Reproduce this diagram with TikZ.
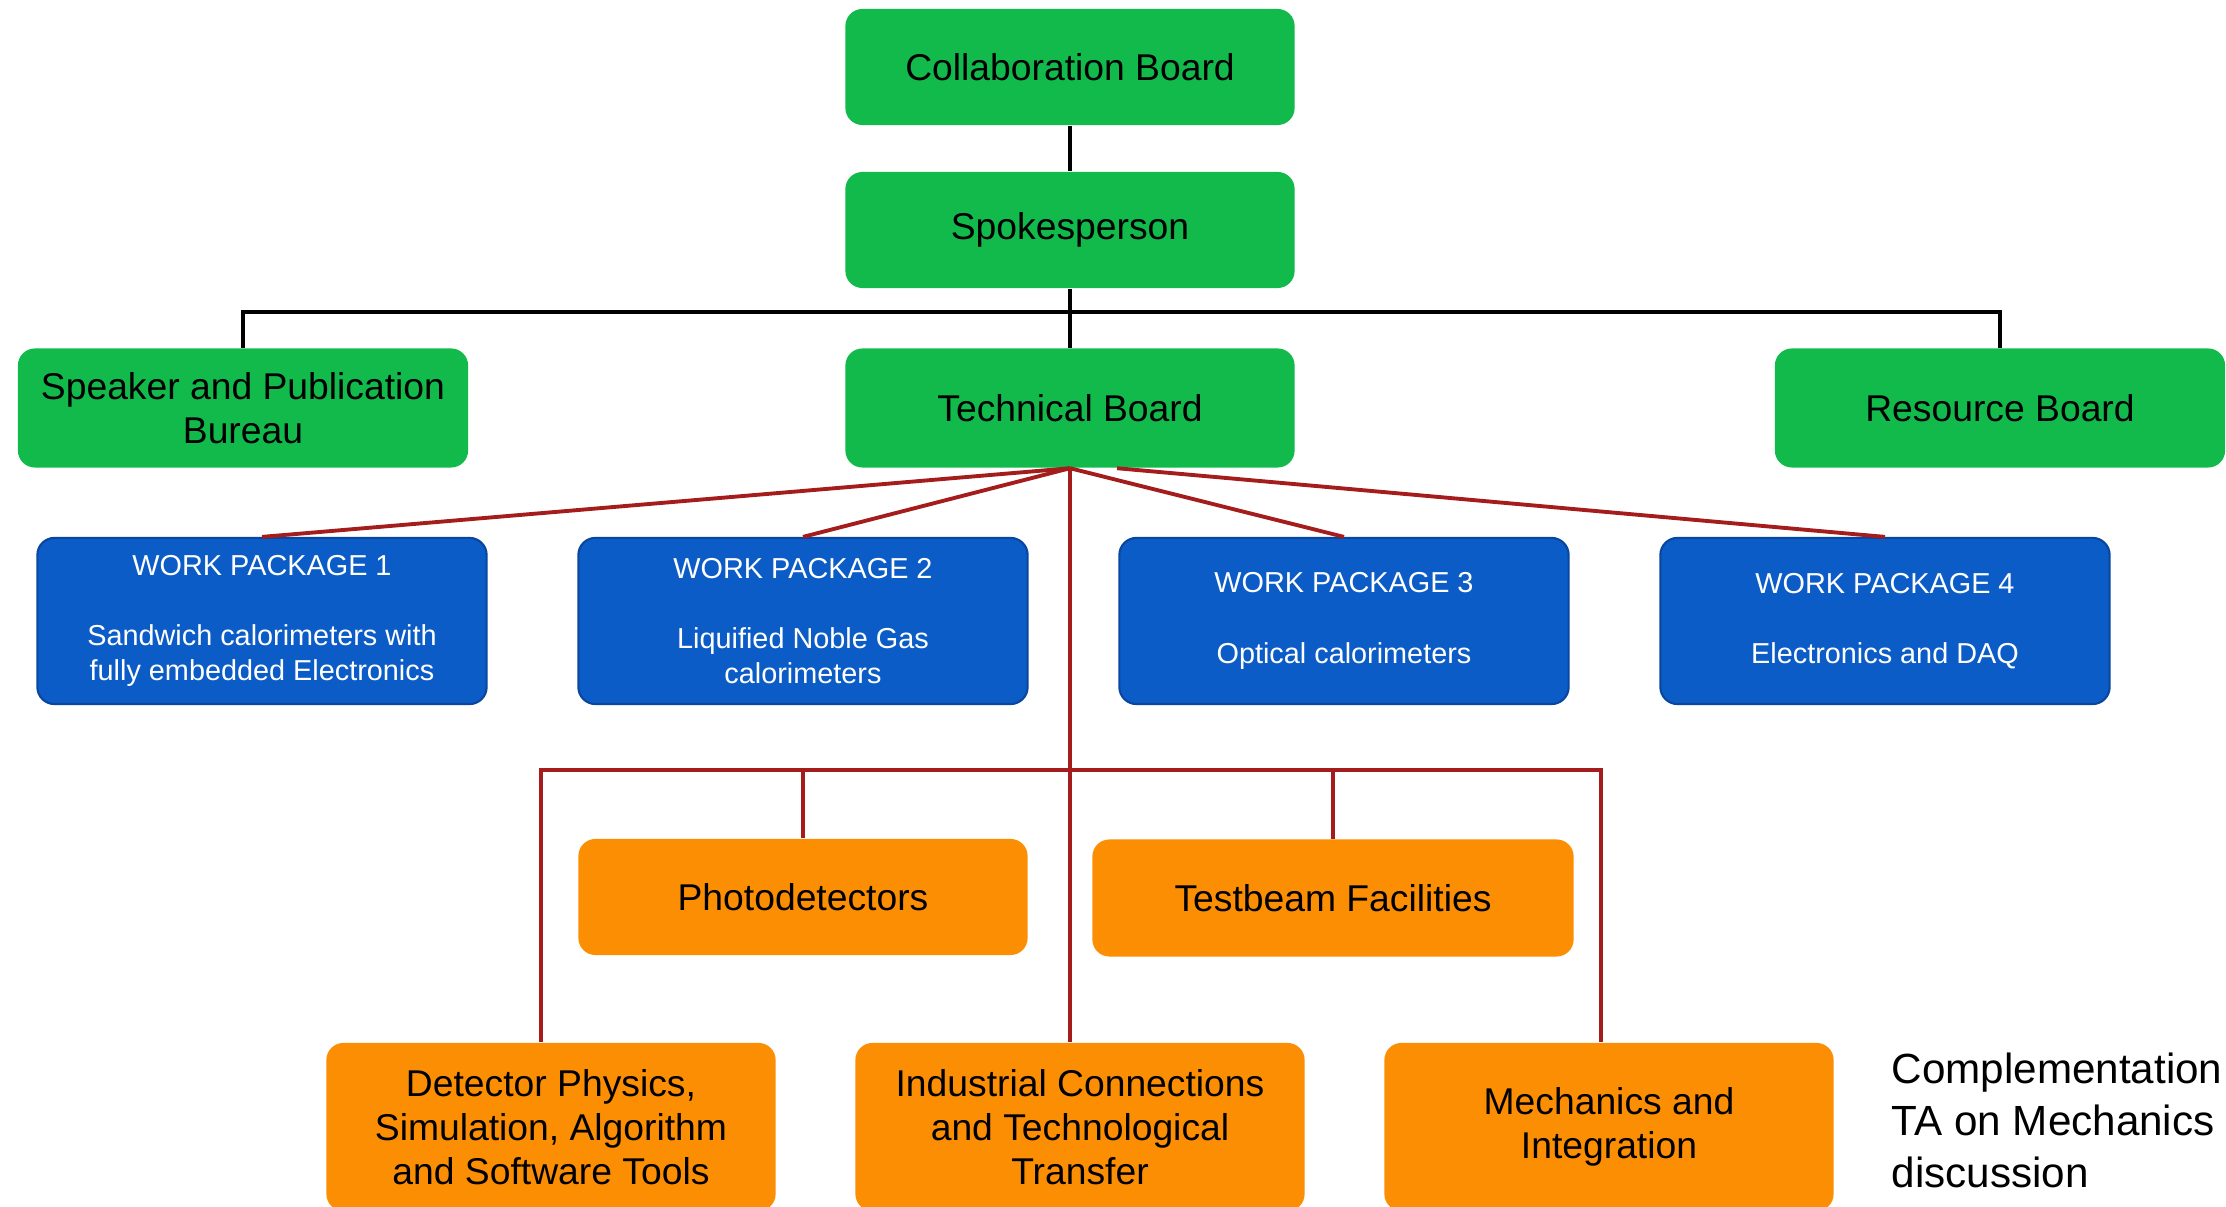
\documentclass[tikz,border=0pt]{standalone}
\usepackage{fontspec}
\setmainfont{Liberation Sans}
\definecolor{boardgreen}{RGB}{18,186,76}
\definecolor{wpblue}{RGB}{12,92,200}
\definecolor{wpblueedge}{RGB}{8,70,160}
\definecolor{taorange}{RGB}{252,142,4}
\definecolor{linkred}{RGB}{165,28,28}
\begin{document}
\begin{tikzpicture}[x=0.01cm,y=-0.01cm,
  box/.style={rounded corners=0.17cm, minimum width=4.49cm, minimum height=1.16cm,
    align=center, inner sep=0pt, font=\fontsize{10.6}{12.5}\selectfont},
  greenbox/.style={box, fill=boardgreen},
  wpbox/.style={box, fill=wpblue, draw=wpblueedge, line width=0.6pt, text=white,
    minimum height=1.66cm, font=\fontsize{8.2}{10}\selectfont},
  orangebox/.style={box, fill=taorange},
  blackline/.style={draw=black, line width=1.2pt},
  redline/.style={draw=linkred, line width=1.1pt}]
\useasboundingbox (0,0) rectangle (2226,1207);

% governing bodies
\node[greenbox] (CB)  at (1070,67)  {Collaboration Board};
\node[greenbox] (SP)  at (1070,230) {Spokesperson};
\node[greenbox, minimum width=4.50cm, minimum height=1.19cm] (SPB) at (243,408) {Speaker and Publication\\Bureau};
\node[greenbox, minimum height=1.19cm] (TB)  at (1070,408) {Technical Board};
\node[greenbox, minimum width=4.50cm, minimum height=1.19cm] (RB)  at (2000,408) {Resource Board};

% work packages
\node[wpbox] (WP1) at (262,621)  {WORK PACKAGE 1\\[10pt]Sandwich calorimeters with\\fully embedded Electronics};
\node[wpbox] (WP2) at (803,621)  {WORK PACKAGE 2\\[10pt]Liquified Noble Gas\\calorimeters};
\node[wpbox] (WP3) at (1344,621) {WORK PACKAGE 3\\[10pt]Optical calorimeters};
\node[wpbox] (WP4) at (1885,621) {WORK PACKAGE 4\\[10pt]Electronics and DAQ};

% transversal activities
\node[orangebox] (PD) at (803,897) {Photodetectors};
\node[orangebox, minimum width=4.81cm, minimum height=1.17cm] (TF) at (1333,898) {Testbeam Facilities};
\node[orangebox, minimum height=1.68cm] (DP) at (551,1127) {Detector Physics,\\Simulation, Algorithm\\and Software Tools};
\node[orangebox, minimum height=1.68cm] (IC) at (1080,1127) {Industrial Connections\\and Technological\\Transfer};
\node[orangebox, minimum height=1.68cm] (MI) at (1609,1127) {Mechanics and\\Integration};

\node[anchor=north west, align=left, inner sep=0pt, font=\fontsize{12}{14.8}\selectfont] (note) at (1891,1052)
  {Complementation\\TA on Mechanics\\discussion};

% black links between boards
\coordinate (bus) at (1070,312);
\draw[blackline] (CB.south) -- (SP.north);
\draw[blackline] (SP.south) -- (TB.north);
\draw[blackline] (SPB.north) -- (SPB.north |- bus) -- (RB.north |- bus) -- (RB.north);

% red links from the technical board
\draw[redline] (TB.south) -- (WP1.north);
\draw[redline] (TB.south) -- (WP2.north);
\draw[redline] (TB.south) -- (WP3.north);
\draw[redline] ([xshift=0.47cm]TB.south) -- (WP4.north);
\draw[redline] (TB.south) -- (TB.south |- IC.north);
\coordinate (tabus) at (1070,770);
\draw[redline] (DP.north -| 541,0) -- (541,770) -- (1601,770) -- (MI.north -| 1601,0);
\draw[redline] (PD.north) -- (PD.north |- tabus);
\draw[redline] (TF.north) -- (TF.north |- tabus);
\end{tikzpicture}
\end{document}
